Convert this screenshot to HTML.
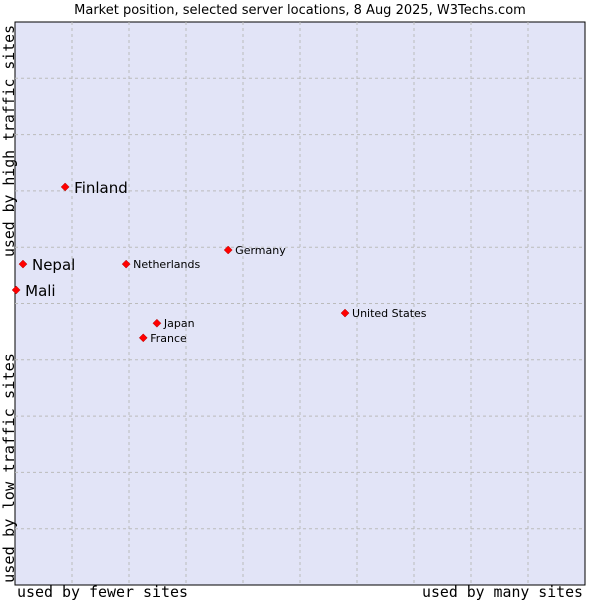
<!DOCTYPE html>
<html><head><meta charset="utf-8"><style>
body{margin:0;background:#fff;width:600px;height:600px;overflow:hidden}
svg text{font-family:"DejaVu Sans","Liberation Sans",sans-serif}
.mono{font-family:"DejaVu Sans Mono","Liberation Mono",monospace}
</style></head><body>
<svg id="chart" width="600" height="600">
<text x="300" y="14" text-anchor="middle" font-size="13" fill="#000">Market position, selected server locations, 8 Aug 2025, W3Techs.com</text>
<rect x="15" y="22" width="570" height="563" fill="#e2e4f7" stroke="#000" stroke-width="1"/>
<g id="grid"></g>
<g id="points"></g>
<text class="mono" x="17" y="597" font-size="15" textLength="171" lengthAdjust="spacingAndGlyphs">used by fewer sites</text>
<text class="mono" x="422" y="597" font-size="15" textLength="161" lengthAdjust="spacingAndGlyphs">used by many sites</text>
<text class="mono" transform="translate(14,583) rotate(-90)" font-size="15" textLength="230" lengthAdjust="spacingAndGlyphs">used by low traffic sites</text>
<text class="mono" transform="translate(14,257) rotate(-90)" font-size="15" textLength="232" lengthAdjust="spacingAndGlyphs">used by high traffic sites</text>
</svg>
<script>
const names=["Finland","Nepal","Mali","Netherlands","Germany","United States","Japan","France"];
const xVals=[0.88,0.14,0.02,1.95,3.74,5.79,2.49,2.25];
const yVals=[7.07,5.70,5.24,5.70,5.95,4.83,4.65,4.39];
const bigLabel=[true,true,true,false,false,false,false,false];
const NS="http://www.w3.org/2000/svg";
const L=15,T=22,W=570,H=563;
const sx=v=>L+v/10*W, sy=v=>T+H-v/10*H;
const grid=document.getElementById('grid');
for(let i=1;i<10;i++){
  const v=document.createElementNS(NS,'line');
  v.setAttribute('x1',sx(i));v.setAttribute('x2',sx(i));v.setAttribute('y1',T);v.setAttribute('y2',T+H);
  v.setAttribute('stroke','#bbb');v.setAttribute('stroke-dasharray','3,3');
  
  
  grid.appendChild(v);
  const h=document.createElementNS(NS,'line');
  h.setAttribute('y1',sy(i));h.setAttribute('y2',sy(i));h.setAttribute('x1',L);h.setAttribute('x2',L+W);
  h.setAttribute('stroke','#bbb');h.setAttribute('stroke-dasharray','3,3');
  
  
  grid.appendChild(h);
}
const pts=document.getElementById('points');
names.forEach((n,i)=>{
  const x=sx(xVals[i]),y=sy(yVals[i]);
  const d=document.createElementNS(NS,'polygon');
  d.setAttribute('points',`${x},${y-4} ${x+4},${y} ${x},${y+4} ${x-4},${y}`);
  d.setAttribute('fill','#f00');d.setAttribute('stroke','#a00');d.setAttribute('stroke-width','0.5');
  
  
  pts.appendChild(d);
  const t=document.createElementNS(NS,'text');
  t.setAttribute('x',x+(bigLabel[i]?9:7));
  t.setAttribute('y',y+(bigLabel[i]?6:4));
  t.setAttribute('font-size',bigLabel[i]?15:11);
  t.textContent=n;
  
  
  pts.appendChild(t);
});
</script>
</body></html>
